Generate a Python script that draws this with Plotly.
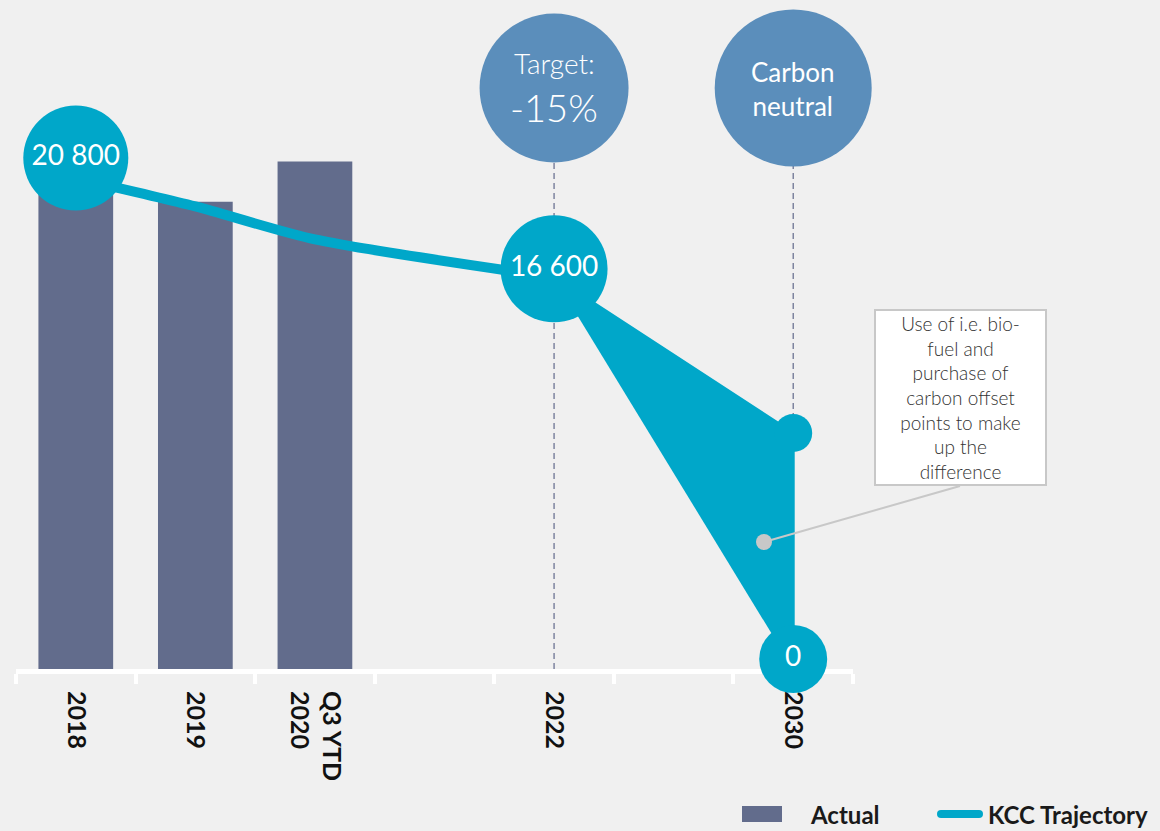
import plotly.graph_objects as go

# ---------------- data ----------------
CATEGORIES = ["2018", "2019", "Q3 YTD<br>2020", " ", "2022", "  ", "2030"]

ACTUAL_CATS = ["2018", "2019", "Q3 YTD<br>2020"]
ACTUAL_VALUES = [20800, 19800, 21500]

TRAJ_CATS = ["2018", "2019", "Q3 YTD<br>2020", "2022"]
TRAJ_VALUES = [20800, 19600, 18200, 16600]

GAP_CATS = ["2022", "2030", "2030"]
GAP_VALUES = [16600, 10000, 0]

LABEL_CATS = ["2018", "2022", "2030"]
LABEL_VALUES = [20800, 16600, 0]
LABEL_TEXTS = ["20 800", "16 600", "0"]

CALLOUT_CATS = ["2022", "2030"]
TARGET_TITLE = "Target:"
TARGET_VALUE = "-15%"
CARBON_TEXT = "Carbon<br>neutral"

NOTE_TEXT = ("Use of i.e. bio-<br>fuel and<br>purchase of<br>carbon offset"
             "<br>points to make<br>up the<br>difference")
LEGEND_NAMES = ["Actual", "KCC Trajectory"]

# ---------------- style ----------------
BG = "#f0f0f0"
BAR = "#626c8c"
CYAN = "#00a7c9"
STEEL = "#5b8ebb"
DASH = "#6c7393"
GREY = "#c8c8c8"
FONT = "Lato"

W, H = 1160, 831
PL, PR, PT, PB = 16, 853, 20, 669
YMAX = 27500
UPP = YMAX / (PB - PT)  # value units per pixel


def fx(px):
    return (px - PL) / (PR - PL)


def fy(py):
    return (PB - py) / (PB - PT)


LABEL_OFFSETS_PX = [20, 8.5, 10]
CALLOUT_Y = fy(88) * YMAX
cat_idx = {c: i for i, c in enumerate(CATEGORIES)}

fig = go.Figure()

# dashed guide lines
for c in CALLOUT_CATS:
    fig.add_trace(go.Scatter(
        x=[c, c], y=[0, CALLOUT_Y], mode="lines",
        line=dict(color=DASH, width=1.3, dash="6px,4px"),
        hoverinfo="skip"))

# bars
fig.add_trace(go.Bar(
    x=ACTUAL_CATS, y=ACTUAL_VALUES, width=0.625, name=LEGEND_NAMES[0],
    marker=dict(color=BAR, line=dict(width=0))))

# trajectory
fig.add_trace(go.Scatter(
    x=TRAJ_CATS, y=TRAJ_VALUES, mode="lines", name=LEGEND_NAMES[1],
    line=dict(color=CYAN, width=10, shape="spline", smoothing=0.7)))

# gap area
fig.add_trace(go.Scatter(
    x=GAP_CATS, y=GAP_VALUES, mode="lines", fill="toself",
    fillcolor=CYAN, line=dict(width=3, color=CYAN), hoverinfo="skip"))

# small marker at the upper 2030 point
fig.add_trace(go.Scatter(
    x=[GAP_CATS[1]], y=[GAP_VALUES[1]], mode="markers",
    marker=dict(size=38, color=CYAN, opacity=1, line=dict(width=0)),
    cliponaxis=False))

# value label circles
fig.add_trace(go.Scatter(
    x=LABEL_CATS,
    y=[v + o * UPP for v, o in zip(LABEL_VALUES, LABEL_OFFSETS_PX)],
    mode="markers+text", text=LABEL_TEXTS, textposition="middle center",
    textfont=dict(family=FONT, size=28, color="white", weight=400),
    marker=dict(size=[105, 107, 68], color=CYAN, opacity=1, line=dict(width=0)),
    cliponaxis=False))

# callout circles
fig.add_trace(go.Scatter(
    x=CALLOUT_CATS, y=[CALLOUT_Y, CALLOUT_Y],
    mode="markers", 
    marker=dict(size=[149, 157], color=STEEL, opacity=1, line=dict(width=0)),
    cliponaxis=False))

annotations = [
    dict(x=cat_idx["2022"], y=CALLOUT_Y, xref="x", yref="y", text=TARGET_TITLE,
         yshift=25, showarrow=False,
         font=dict(family=FONT, size=28, color="white", weight=300)),
    dict(x=cat_idx["2022"], y=CALLOUT_Y, xref="x", yref="y", text=TARGET_VALUE,
         yshift=-19, showarrow=False,
         font=dict(family=FONT, size=38, color="white", weight=300)),
    dict(x=cat_idx["2030"], y=CALLOUT_Y, xref="x", yref="y", text=CARBON_TEXT,
         yshift=-1, showarrow=False, align="center",
         font=dict(family=FONT, size=26, color="white", weight=400)),
    dict(x=fx(960.5), y=fy(397.5), xref="paper", yref="paper",
         xanchor="center", yanchor="middle",
         text=NOTE_TEXT, showarrow=False, align="center", valign="middle",
         width=169, height=173, bgcolor="white", bordercolor=GREY,
         borderwidth=2, borderpad=0,
         font=dict(family=FONT, size=19, color="#333333", weight=300)),
    dict(x=fx(808), y=fy(814), xref="paper", yref="paper", text=LEGEND_NAMES[0],
         xanchor="left", yanchor="middle", showarrow=False,
         font=dict(family=FONT, size=24, color="#1a1a1a", weight="bold")),
    dict(x=fx(986), y=fy(814), xref="paper", yref="paper", text=LEGEND_NAMES[1],
         xanchor="left", yanchor="middle", showarrow=False,
         font=dict(family=FONT, size=24, color="#1a1a1a", weight="bold")),
]

shapes = [
    # connector from note to pointer dot
    dict(type="line", xref="paper", yref="paper",
         x0=fx(764), y0=fy(542), x1=fx(960), y1=fy(486),
         line=dict(color=GREY, width=2)),
    dict(type="circle", xref="paper", yref="paper",
         x0=fx(756), x1=fx(772), y0=fy(550), y1=fy(534),
         fillcolor=GREY, line=dict(width=0)),
    # legend: Actual swatch
    dict(type="rect", xref="paper", yref="paper",
         x0=fx(742), x1=fx(782), y0=fy(822), y1=fy(806),
         fillcolor=BAR, line=dict(width=0)),
    # legend: trajectory swatch
    dict(type="line", xref="paper", yref="paper",
         x0=fx(941), x1=fx(979), y0=fy(814), y1=fy(814),
         line=dict(color=CYAN, width=8)),
    dict(type="circle", xref="paper", yref="paper",
         x0=fx(937), x1=fx(945), y0=fy(818), y1=fy(810),
         fillcolor=CYAN, line=dict(width=0)),
    dict(type="circle", xref="paper", yref="paper",
         x0=fx(975), x1=fx(983), y0=fy(818), y1=fy(810),
         fillcolor=CYAN, line=dict(width=0)),
]

fig.update_layout(
    width=W, height=H,
    margin=dict(l=PL, r=W - PR, t=PT, b=H - PB),
    paper_bgcolor=BG, plot_bgcolor=BG,
    showlegend=False,
    annotations=annotations, shapes=shapes,
    xaxis=dict(
        type="category", categoryorder="array", categoryarray=CATEGORIES,
        range=[-0.5, 6.5], tickson="boundaries", ticks="outside",
        ticklen=10, tickwidth=4, tickcolor="white",
        showline=True, linecolor="white", linewidth=5,
        showgrid=False, zeroline=False, tickangle=90, layer="below traces",
        ticklabelstandoff=12,
        tickfont=dict(family=FONT, size=25, color="#111111", weight="bold"),
    ),
    yaxis=dict(visible=False, range=[0, YMAX], showgrid=False, zeroline=False),
)

fig.write_html("out.html")
